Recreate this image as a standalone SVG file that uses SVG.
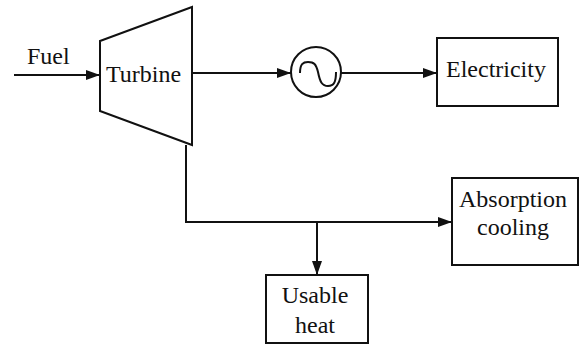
<svg xmlns="http://www.w3.org/2000/svg" width="579" height="345" viewBox="0 0 579 345">
<style>
.s{fill:none;stroke:#111;stroke-width:2}
.b{fill:#fff;stroke:#111;stroke-width:2}
text{font-family:"Liberation Serif","Times New Roman",serif;font-size:24px;fill:#111}
</style>
<defs>
<marker id="a" markerUnits="userSpaceOnUse" markerWidth="14" markerHeight="10" refX="14" refY="5" orient="auto">
<path d="M0,0 L14,5 L0,10 z" fill="#111"/>
</marker>
</defs>
<rect width="579" height="345" fill="#fff"/>
<g id="connectors">
<line class="s" x1="14" y1="75" x2="100" y2="75" marker-end="url(#a)"/>
<line class="s" x1="192" y1="73" x2="291" y2="73" marker-end="url(#a)"/>
<line class="s" x1="341" y1="73" x2="437" y2="73" marker-end="url(#a)"/>
<polyline class="s" points="186,145 186,222 452,222" marker-end="url(#a)"/>
<line class="s" x1="317" y1="222" x2="317" y2="275" marker-end="url(#a)"/>
</g>
<g id="fuel"><text x="27" y="64">Fuel</text></g>
<g id="turbine">
<polygon class="b" points="100,41 192,7 192,145 100,111"/>
<text x="106" y="82">Turbine</text>
</g>
<g id="generator">
<circle class="b" cx="316" cy="72" r="25"/>
<path class="s" d="M300,73 C300,64 303,62 308,62 C314,62 316,64 318,72 C320,82 322,86 328,86 C334,86 336,82 336,72"/>
</g>
<g id="electricity">
<rect class="b" x="437" y="38" width="121" height="68"/>
<text x="446" y="77">Electricity</text>
</g>
<g id="absorption">
<rect class="b" x="452" y="178" width="126" height="87"/>
<text x="513" y="207" text-anchor="middle">Absorption</text>
<text x="513" y="235" text-anchor="middle">cooling</text>
</g>
<g id="heat">
<rect class="b" x="266" y="275" width="102" height="68"/>
<text x="315" y="303" text-anchor="middle">Usable</text>
<text x="315" y="333" text-anchor="middle">heat</text>
</g>
</svg>
